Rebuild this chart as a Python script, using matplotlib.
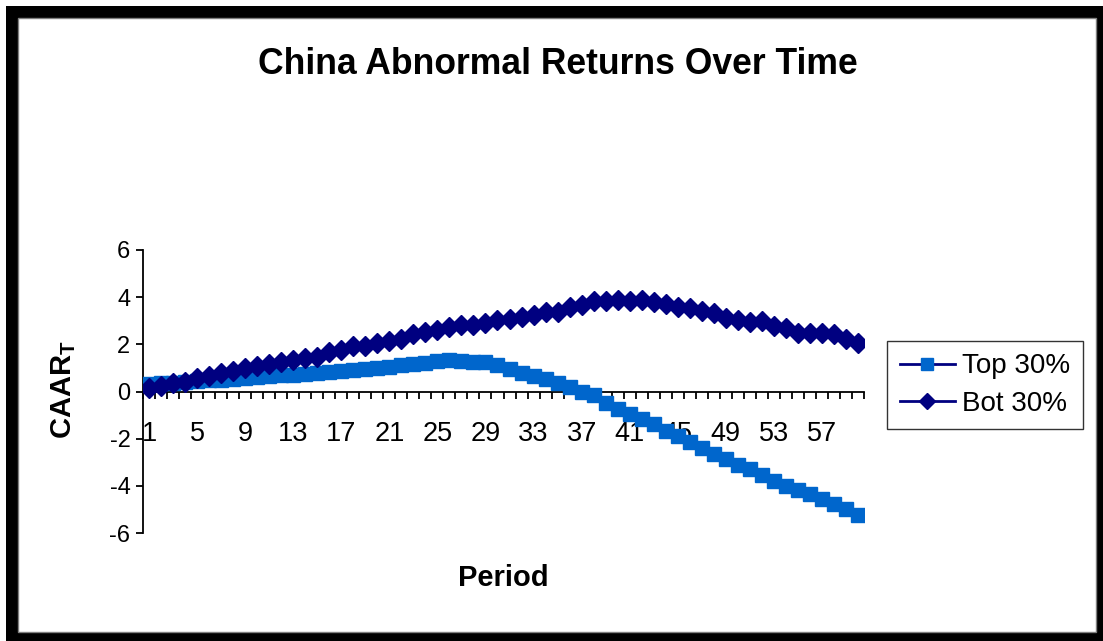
import matplotlib
matplotlib.use("Agg")
import matplotlib.pyplot as plt
from matplotlib.patches import Rectangle

plt.rcParams['font.family'] = ['Liberation Sans', 'DejaVu Sans']
plt.rcParams['mathtext.fontset'] = 'custom'
plt.rcParams['mathtext.rm'] = 'Liberation Sans'
plt.rcParams['mathtext.bf'] = 'Liberation Sans:bold'

periods = list(range(1, 61))
top30 = [0.30, 0.36, 0.38, 0.40, 0.45, 0.48, 0.50, 0.53, 0.58, 0.62,
         0.66, 0.69, 0.71, 0.74, 0.77, 0.82, 0.86, 0.91, 0.95, 1.01,
         1.05, 1.11, 1.15, 1.21, 1.30, 1.33, 1.30, 1.26, 1.24, 1.12,
         0.95, 0.80, 0.66, 0.52, 0.38, 0.20, 0.00, -0.15, -0.47, -0.75,
         -0.96, -1.17, -1.38, -1.67, -1.90, -2.16, -2.40, -2.63, -2.87, -3.11,
         -3.29, -3.55, -3.79, -4.00, -4.18, -4.35, -4.56, -4.77, -4.99, -5.23]
bot30 = [0.16, 0.25, 0.35, 0.42, 0.56, 0.65, 0.78, 0.86, 0.99, 1.10,
         1.17, 1.24, 1.34, 1.43, 1.48, 1.67, 1.78, 1.91, 1.94, 2.05,
         2.16, 2.23, 2.44, 2.54, 2.61, 2.73, 2.84, 2.84, 2.92, 3.04,
         3.08, 3.15, 3.25, 3.39, 3.36, 3.57, 3.67, 3.82, 3.85, 3.90,
         3.85, 3.90, 3.80, 3.70, 3.60, 3.52, 3.40, 3.33, 3.12, 3.03,
         2.95, 3.00, 2.78, 2.70, 2.47, 2.47, 2.49, 2.42, 2.22, 2.07]
xtick_labels = ['1', '5', '9', '13', '17', '21', '25', '29', '33', '37',
                '41', '45', '49', '53', '57']
xtick_pos = [int(s) for s in xtick_labels]
yticks = [-6, -4, -2, 0, 2, 4, 6]

W, H = 1103, 641
fig = plt.figure(figsize=(W / 100, H / 100), dpi=100)
fig.patch.set_facecolor('white')

# black frame
fig.patches.append(Rectangle((6 / W, 0), 1 - 6 / W, (H - 6) / H,
                             transform=fig.transFigure, facecolor='black',
                             edgecolor='none', zorder=-10))
fig.patches.append(Rectangle((18 / W, 9 / H), (1096 - 18) / W, (632 - 18) / H,
                             transform=fig.transFigure, facecolor='white',
                             edgecolor='#808080', linewidth=1, zorder=-9))

ax = fig.add_axes([143 / W, 1 - 533 / H, (864 - 143) / W, (533 - 250) / H])
ax.set_facecolor('none')

ax.plot(periods, top30, color='#000080', linewidth=2, marker='s',
        markersize=10.5, markerfacecolor='#0066CC', markeredgecolor='#0066CC',
        label='Top 30%', zorder=3)
ax.plot(periods, bot30, color='#000080', linewidth=2, marker='D',
        markersize=10, markerfacecolor='#000080', markeredgecolor='#000080',
        label='Bot 30%', zorder=4)

ax.set_xlim(0.5, 60.5)
ax.set_ylim(-6, 6)

for s in ['top', 'right']:
    ax.spines[s].set_visible(False)
ax.spines['bottom'].set_position(('data', 0))
ax.spines['left'].set_linewidth(1.3)
ax.spines['bottom'].set_linewidth(1.3)

ax.set_yticks(yticks)
ax.set_yticklabels([str(v) for v in yticks])
ax.tick_params(axis='y', direction='out', length=5, width=1.3, labelsize=17, pad=4)

bounds = [p - 0.5 for p in periods] + [60.5]
ax.set_xticks(bounds)
ax.set_xticklabels([])
ax.tick_params(axis='x', which='major', direction='out', length=5, width=1.3)
ax.set_xticks(xtick_pos, minor=True)
ax.set_xticklabels(xtick_labels, minor=True)
ax.tick_params(axis='x', which='minor', length=0, labelsize=19.5, pad=21)

fig.text(503 / W, 1 - 578 / H, 'Period', fontsize=21, fontweight='bold',
         ha='center', va='center')
fig.text(64 / W, 1 - 390 / H, r'$\mathbf{CAAR_T}$', fontsize=21,
         rotation=90, ha='center', va='center')
fig.text(558 / W, 1 - 64 / H, 'China Abnormal Returns Over Time', fontsize=25.6,
         fontweight='bold', ha='center', va='center')

leg = ax.legend(loc='center left', bbox_to_anchor=(887 / W, 1 - 385 / H),
                bbox_transform=fig.transFigure, fontsize=20, frameon=True,
                fancybox=False, edgecolor='black', handlelength=2.0,
                handletextpad=0.25, borderpad=0.45, labelspacing=0.4,
                borderaxespad=0, markerscale=0.85)
leg.get_frame().set_linewidth(1.0)

fig.savefig('out.png', dpi=100)
